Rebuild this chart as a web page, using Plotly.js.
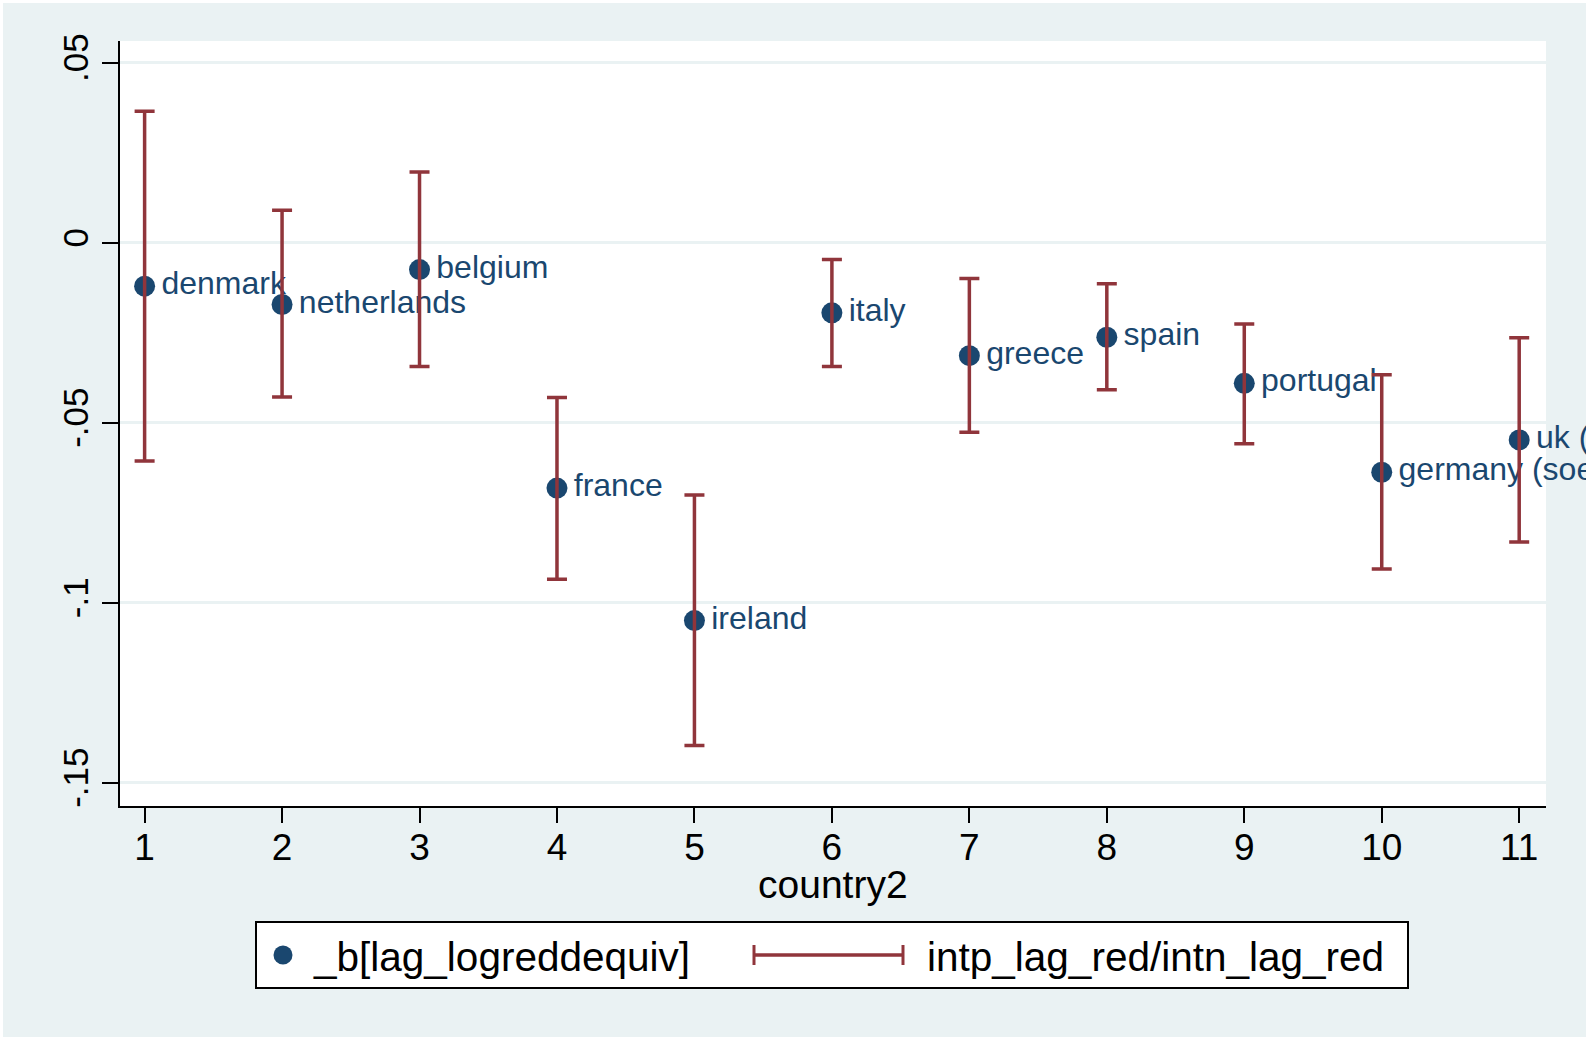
<!DOCTYPE html>
<html>
<head>
<meta charset="utf-8">
<script src="https://cdn.plot.ly/plotly-3.0.1.min.js"></script>
<style>
  html, body { margin: 0; padding: 0; background: #ffffff; overflow: hidden; }
  #chart { position: absolute; left: 3px; top: 3px; width: 1583px; height: 1034px; }
</style>
</head>
<body>
<div id="chart"></div>
<script>
// Country index, coefficient estimate and interval bounds
const countryIndex = [1, 2, 3, 4, 5, 6, 7, 8, 9, 10, 11];
const countryNames = ["denmark", "netherlands", "belgium", "france", "ireland", "italy",
                      "greece", "spain", "portugal", "germany (soep)", "uk (bhps)"];
const estimate = [-0.0120, -0.0171, -0.0074, -0.0681, -0.1049, -0.0194,
                  -0.0313, -0.0262, -0.0390, -0.0637, -0.0547];
const upperBound = [0.0366, 0.0091, 0.0197, -0.0429, -0.0700, -0.0046,
                    -0.0099, -0.0113, -0.0225, -0.0366, -0.0263];
const lowerBound = [-0.0606, -0.0428, -0.0343, -0.0934, -0.1396, -0.0343,
                    -0.0526, -0.0408, -0.0558, -0.0906, -0.0831];
const yTickValues = [0.05, 0, -0.05, -0.1, -0.15];
const yTickLabels = [".05", "0", "-.05", "-.1", "-.15"];
const xTickValues = [1, 2, 3, 4, 5, 6, 7, 8, 9, 10, 11];
const xTitle = "country2";
const legendLabels = ["_b[lag_logreddequiv]", "intp_lag_red/intn_lag_red"];

const NAVY = "#1a476f";
const MAROON = "#90353b";
const BG = "#eaf2f3";
const FONT = "Liberation Sans, Arial, Helvetica, sans-serif";

// Plot area geometry in page pixels, used to place the hand-built legend and axis title
const PLOT = { left: 120, right: 1546, top: 41, bottom: 806 };
const px = v => (v - PLOT.left) / (PLOT.right - PLOT.left);
const py = v => (PLOT.bottom - v) / (PLOT.bottom - PLOT.top);

// Marker labels sit a little further from the dot than the default gap
const labelText = countryNames.map(n => "\u200A" + n);

const pointTrace = {
  type: "scatter",
  mode: "markers+text",
  x: countryIndex,
  y: estimate,
  text: labelText,
  textposition: "middle right",
  textfont: { family: FONT, size: 32, color: NAVY },
  marker: { color: NAVY, size: 21, line: { width: 0 } },
  cliponaxis: false,
  showlegend: false,
  hoverinfo: "x+y"
};

const intervalTrace = {
  type: "scatter",
  mode: "markers",
  x: countryIndex,
  y: estimate,
  marker: { size: 1, opacity: 0 },
  error_y: {
    type: "data",
    symmetric: false,
    array: upperBound.map((u, i) => u - estimate[i]),
    arrayminus: lowerBound.map((l, i) => estimate[i] - l),
    color: MAROON,
    thickness: 3.5,
    width: 10
  },
  cliponaxis: false,
  showlegend: false,
  hoverinfo: "skip"
};

// Legend: framed box with a dot, an interval symbol and two labels
const legY = 957;
const shapes = [
  { type: "rect", xref: "paper", yref: "paper",
    x0: px(256), x1: px(1408), y0: py(988), y1: py(922),
    line: { color: "#000000", width: 2 }, fillcolor: "#ffffff", layer: "above" },
  { type: "circle", xref: "paper", yref: "paper",
    x0: px(273.5), x1: px(292.5), y0: py(964.5), y1: py(945.5),
    line: { width: 0 }, fillcolor: NAVY, layer: "above" },
  { type: "line", xref: "paper", yref: "paper",
    x0: px(754), x1: px(903), y0: py(955), y1: py(955),
    line: { color: MAROON, width: 3.5 }, layer: "above" },
  { type: "line", xref: "paper", yref: "paper",
    x0: px(754), x1: px(754), y0: py(945), y1: py(965),
    line: { color: MAROON, width: 3 }, layer: "above" },
  { type: "line", xref: "paper", yref: "paper",
    x0: px(903), x1: px(903), y0: py(945), y1: py(965),
    line: { color: MAROON, width: 3 }, layer: "above" }
];

const annotations = [
  { xref: "paper", yref: "paper", x: px(311), y: py(legY), xanchor: "left", yanchor: "middle",
    text: legendLabels[0], showarrow: false, font: { family: FONT, size: 40.5, color: "#000000" } },
  { xref: "paper", yref: "paper", x: px(925), y: py(legY), xanchor: "left", yanchor: "middle",
    text: legendLabels[1], showarrow: false, font: { family: FONT, size: 40.5, color: "#000000" } },
  // x-axis title, set just under the tick labels
  { xref: "paper", yref: "paper", x: 0.5, y: py(884), xanchor: "center", yanchor: "middle",
    text: xTitle, showarrow: false, font: { family: FONT, size: 39, color: "#000000" } }
];

const layout = {
  width: 1583,
  height: 1034,
  margin: { l: 117, r: 40, t: 38, b: 231, pad: 0 },
  paper_bgcolor: BG,
  plot_bgcolor: "#ffffff",
  font: { family: FONT, color: "#000000" },
  showlegend: false,
  xaxis: {
    range: [0.821, 11.195],
    tickmode: "array",
    tickvals: xTickValues,
    ticks: "outside",
    ticklen: 15,
    tickwidth: 2,
    tickcolor: "#000000",
    ticklabelstandoff: -7,
    tickfont: { family: FONT, size: 37, color: "#000000" },
    showgrid: false,
    zeroline: false,
    showline: true,
    linecolor: "#000000",
    linewidth: 2
  },
  yaxis: {
    range: [-0.1564, 0.0561],
    tickmode: "array",
    tickvals: yTickValues,
    ticktext: yTickLabels,
    tickangle: -90,
    ticks: "outside",
    ticklen: 16,
    tickwidth: 2,
    tickcolor: "#000000",
    tickfont: { family: FONT, size: 35, color: "#000000" },
    showgrid: true,
    gridcolor: BG,
    gridwidth: 3,
    zeroline: false,
    showline: true,
    linecolor: "#000000",
    linewidth: 2
  },
  shapes: shapes,
  annotations: annotations
};

Plotly.newPlot("chart", [pointTrace, intervalTrace], layout, { displayModeBar: false, staticPlot: true });
</script>
</body>
</html>
